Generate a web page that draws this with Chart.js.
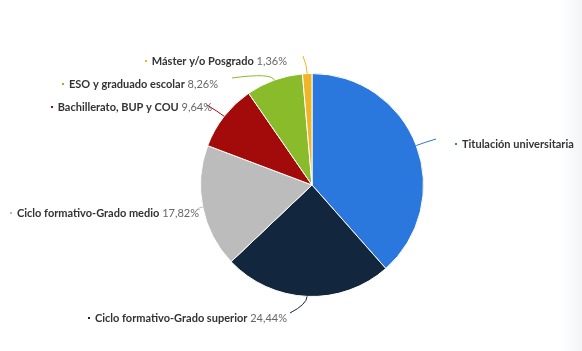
<!DOCTYPE html>
<html>
<head>
<meta charset="utf-8">
<script src="https://cdn.jsdelivr.net/npm/chart.js@4.4.1/dist/chart.umd.min.js"></script>
<style>
  html, body { margin: 0; padding: 0; }
  body {
    width: 582px; height: 351px; overflow: hidden;
    background: linear-gradient(to right, #ffffff 0px, #ffffff 560px, #f3f4f6 582px);
  }
  #wrap { position: relative; width: 582px; height: 351px; }
</style>
</head>
<body>
<div id="wrap"><canvas id="pie"></canvas></div>
<script>
// data
const categories = [
  'Titulación universitaria',
  'Ciclo formativo-Grado superior',
  'Ciclo formativo-Grado medio',
  'Bachillerato, BUP y COU',
  'ESO y graduado escolar',
  'Máster y/o Posgrado'
];
const shares = [38.48, 24.44, 17.82, 9.64, 8.26, 1.36];
const showValue = [false, true, true, true, true, true];
const colors = ['#2a77dd', '#12263d', '#bcbcbc', '#a30b0b', '#8abb2a', '#f0b429'];

// label layout: text anchor x, y, alignment, and where the connector stops
const labelLayout = [
  { x: 462, y: 144, align: 'left',  lx: 436, ly: 139 },
  { x: 287, y: 318, align: 'right', lx: 290, ly: 313 },
  { x: 199, y: 213, align: 'right', lx: 200, ly: 210 },
  { x: 212, y: 107, align: 'right', lx: 207, ly: 105 },
  { x: 218, y: 84,  align: 'right', lx: 232, ly: 78 },
  { x: 287, y: 61,  align: 'right', lx: 303, ly: 56 }
];

function fmt(v) {
  return v.toFixed(2).replace('.', ',') + '%';
}

const labelPlugin = {
  id: 'sliceLabels',
  afterDatasetsDraw(chart) {
    const ctx = chart.ctx;
    const meta = chart.getDatasetMeta(0);
    meta.data.forEach((arc, i) => {
      const p = arc.getProps(['x', 'y', 'startAngle', 'endAngle', 'outerRadius'], true);
      const mid = (p.startAngle + p.endAngle) / 2;
      const ax = p.x + Math.cos(mid) * p.outerRadius;
      const ay = p.y + Math.sin(mid) * p.outerRadius;
      const cx = p.x + Math.cos(mid) * (p.outerRadius + 8);
      const cy = p.y + Math.sin(mid) * (p.outerRadius + 8);
      const lay = labelLayout[i];

      ctx.save();
      ctx.strokeStyle = colors[i];
      ctx.lineWidth = 1;
      ctx.beginPath();
      ctx.moveTo(ax, ay);
      ctx.quadraticCurveTo(cx, cy, lay.lx, lay.ly);
      ctx.stroke();

      const boldFont = 'bold 11px Lato, sans-serif';
      const normFont = '11px Lato, sans-serif';
      const name = categories[i];
      const val = showValue[i] ? ' ' + fmt(shares[i]) : '';
      ctx.font = boldFont;
      const wName = ctx.measureText(name).width;
      ctx.font = normFont;
      const wVal = ctx.measureText(val).width;
      let x0 = lay.align === 'left' ? lay.x : lay.x - wName - wVal;

      // bullet
      ctx.fillStyle = colors[i];
      ctx.fillRect(Math.round(x0 - 7), Math.round(lay.y - 1), 2, 2);

      ctx.textBaseline = 'middle';
      ctx.textAlign = 'left';
      ctx.font = boldFont;
      ctx.fillStyle = '#333333';
      ctx.fillText(name, x0, lay.y);
      ctx.font = normFont;
      ctx.fillStyle = '#666666';
      ctx.fillText(val, x0 + wName, lay.y);
      ctx.restore();
    });
  }
};

new Chart(document.getElementById('pie'), {
  type: 'pie',
  data: {
    labels: categories,
    datasets: [{
      data: shares,
      backgroundColor: colors,
      borderColor: '#ffffff',
      borderWidth: 1
    }]
  },
  options: {
    responsive: true,
    maintainAspectRatio: false,
    animation: false,
    layout: { padding: { top: 73, bottom: 54, left: 142, right: 100 } },
    plugins: {
      legend: { display: false },
      tooltip: { enabled: false }
    }
  },
  plugins: [labelPlugin]
});
</script>
</body>
</html>
